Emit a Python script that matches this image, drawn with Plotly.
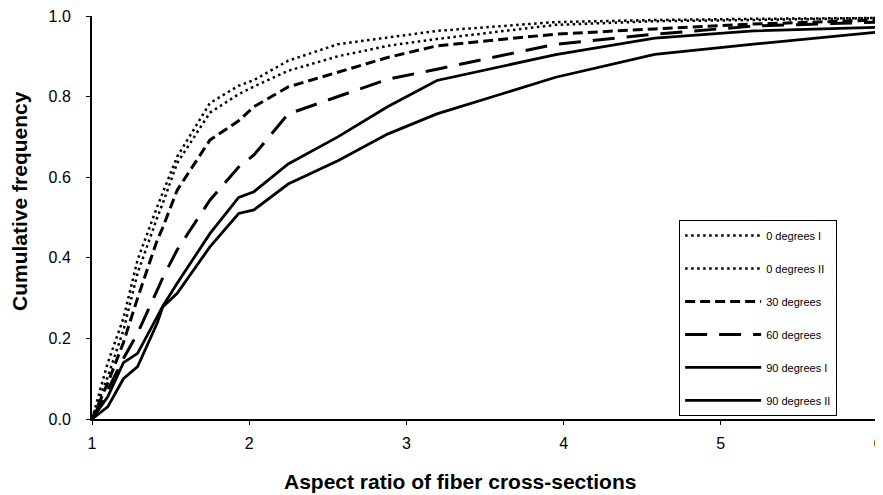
import plotly.graph_objects as go

# Aspect ratio values where the curves were read
aspect_ratio = [1.0, 1.1, 1.2, 1.29, 1.415, 1.45, 1.542, 1.75, 1.933, 2.03,
                2.248, 2.564, 2.88, 3.194, 3.95, 4.58, 5.21, 6.0]

deg0_I  = [0, 0.139, 0.25, 0.395, 0.527, 0.56, 0.651, 0.784, 0.827, 0.841,
           0.889, 0.930, 0.947, 0.963, 0.985, 0.990, 0.993, 0.995]
deg0_II = [0, 0.105, 0.22, 0.362, 0.500, 0.535, 0.635, 0.760, 0.806, 0.825,
           0.864, 0.900, 0.926, 0.943, 0.978, 0.987, 0.990, 0.995]
deg30   = [0, 0.089, 0.19, 0.300, 0.444, 0.475, 0.568, 0.692, 0.740, 0.775,
           0.824, 0.860, 0.897, 0.926, 0.955, 0.968, 0.980, 0.990]
deg60   = [0, 0.072, 0.15, 0.213, 0.320, 0.350, 0.420, 0.543, 0.625, 0.655,
           0.757, 0.800, 0.843, 0.868, 0.930, 0.955, 0.975, 0.985]
deg90_I = [0, 0.055, 0.14, 0.163, 0.254, 0.280, 0.337, 0.460, 0.550, 0.564,
           0.633, 0.700, 0.775, 0.840, 0.904, 0.945, 0.963, 0.972]
deg90_II = [0, 0.030, 0.10, 0.130, 0.238, 0.278, 0.312, 0.427, 0.510, 0.519,
            0.583, 0.641, 0.707, 0.757, 0.848, 0.905, 0.930, 0.960]

names = ["0 degrees I", "0 degrees II", "30 degrees", "60 degrees",
         "90 degrees I", "90 degrees II"]
series = [deg0_I, deg0_II, deg30, deg60, deg90_I, deg90_II]
dashes = ["2.5px,3.5px", "2.5px,3.5px", "10px,5px", "22px,12px", "solid", "solid"]
widths = [2.5, 2.5, 3, 3, 2.8, 2.8]

x_ticks = [1, 2, 3, 4, 5, 6]
y_ticks = [0.0, 0.2, 0.4, 0.6, 0.8, 1.0]

x_title = "Aspect ratio of fiber cross-sections"
y_title = "Cumulative frequency"

FONT = "Arial, Liberation Sans, sans-serif"

fig = go.Figure()
for i, (nm, ys) in enumerate(zip(names, series)):
    fig.add_trace(go.Scatter(
        x=aspect_ratio, y=ys, name=nm, mode="lines",
        legendgroup=f"g{i}",
        line=dict(color="black", width=widths[i], dash=dashes[i]),
    ))

fig.update_layout(
    width=875, height=487,
    margin=dict(l=84, r=5, t=8, b=76),
    paper_bgcolor="white", plot_bgcolor="white",
    font=dict(family=FONT, color="black", size=16),
    showlegend=True,
    legend=dict(
        x=0.747, y=0.494, xanchor="left", yanchor="top",
        bgcolor="white", bordercolor="black", borderwidth=1,
        font=dict(size=11, family=FONT, color="black"),
        tracegroupgap=14,
        itemwidth=76,
        entrywidth=120, entrywidthmode="pixels",
    ),
    xaxis=dict(
        range=[1, 6], tickvals=x_ticks, ticktext=[str(v) for v in x_ticks],
        showgrid=False, zeroline=False, automargin=False,
        showline=True, linecolor="black", linewidth=2,
        ticks="outside", ticklen=4, tickwidth=1, tickcolor="black",
        ticklabelstandoff=5, ticklabeloverflow="allow",
        tickfont=dict(size=16),
    ),
    yaxis=dict(
        range=[0, 1], tickvals=y_ticks, ticktext=[f"{v:.1f}" for v in y_ticks],
        showgrid=False, zeroline=False, automargin=False,
        showline=True, linecolor="black", linewidth=2,
        ticks="outside", ticklen=4, tickwidth=1, tickcolor="black",
        ticklabelstandoff=12, ticklabeloverflow="allow",
        tickfont=dict(size=16),
    ),
    annotations=[
        dict(text=f"<b>{x_title}</b>", xref="paper", yref="paper",
             x=0.468, y=-0.154, xanchor="center", yanchor="middle",
             showarrow=False, font=dict(size=21, family=FONT, color="black")),
        dict(text=f"<b>{y_title}</b>", xref="paper", yref="paper",
             x=-0.0916, y=0.541, xanchor="center", yanchor="middle",
             textangle=-90, showarrow=False,
             font=dict(size=21, family=FONT, color="black")),
    ],
)

fig.write_html("out.html")
